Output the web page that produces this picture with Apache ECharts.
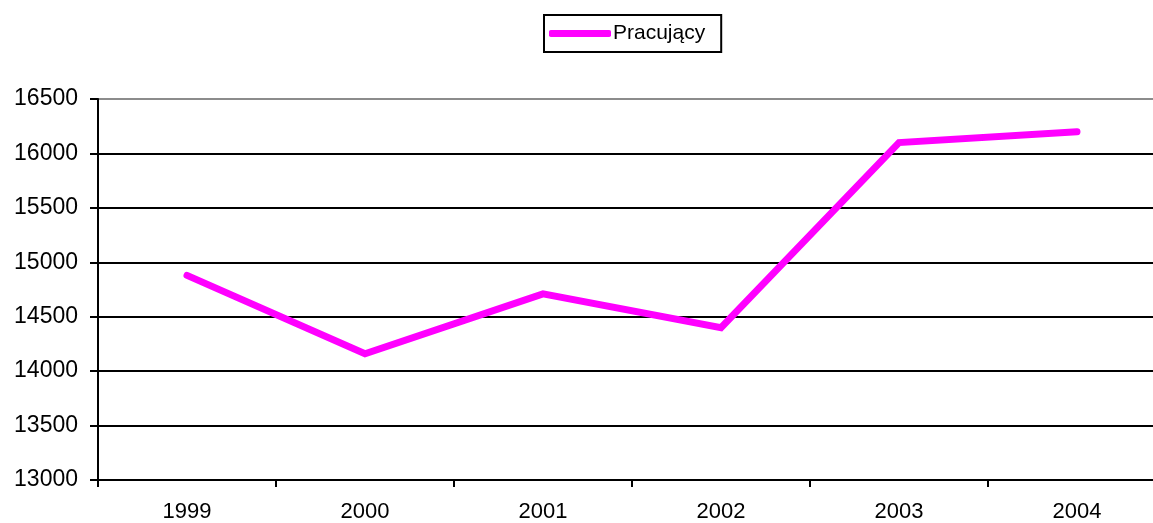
<!DOCTYPE html>
<html>
<head>
<meta charset="utf-8">
<script src="https://cdn.jsdelivr.net/npm/echarts@6/dist/echarts.min.js"></script>
<style>
  html, body { margin: 0; padding: 0; background: #fff; overflow: hidden; }
  /* the plot runs slightly past the right edge of the window */
  #chart { width: 1166px; height: 523px; }
</style>
</head>
<body>
<div id="chart"></div>
<script>
// Liczba pracujących w latach 1999–2004 (tys.)
const years = ['1999', '2000', '2001', '2002', '2003', '2004'];
const pracujacy = [14880, 14160, 14710, 14400, 16100, 16200];
const seriesName = 'Pracujący';

const yMin = 13000;
const yMax = 16500;
const yStep = 500;

const font = 'Arial, "Liberation Sans", sans-serif';

// Gridlines are black, the top one grey
const gridColors = [];
for (let v = yMin; v <= yMax; v += yStep) {
  gridColors.push(v === yMax ? '#8c8c8c' : '#000000');
}

const chart = echarts.init(document.getElementById('chart'), null, { renderer: 'canvas' });

chart.setOption({
  animation: false,
  backgroundColor: '#ffffff',
  textStyle: { fontFamily: font },
  legend: {
    left: 544,
    top: 15,
    orient: 'horizontal',
    icon: 'roundRect',
    itemWidth: 62,
    itemHeight: 7,
    padding: [8, 16, 8, 5],
    borderColor: '#000000',
    borderWidth: 2,
    borderRadius: 0,
    textStyle: { fontSize: 21, color: '#000000', fontFamily: font, padding: [4, 0, 0, -3] },
    data: [seriesName]
  },
  grid: {
    left: 98,
    top: 99,
    right: 0,
    bottom: 41,
    containLabel: false
  },
  xAxis: {
    type: 'category',
    data: years,
    boundaryGap: true,
    axisLine: { show: true, lineStyle: { color: '#000000', width: 2 } },
    axisTick: { show: true, alignWithLabel: false, length: 7, lineStyle: { color: '#000000', width: 2 } },
    axisLabel: { color: '#000000', fontSize: 22, fontFamily: font, margin: 21 },
    splitLine: { show: false }
  },
  yAxis: {
    type: 'value',
    min: yMin,
    max: yMax,
    interval: yStep,
    axisLine: { show: true, lineStyle: { color: '#000000', width: 2 } },
    axisTick: { show: true, length: 8, lineStyle: { color: '#000000', width: 2 } },
    axisLabel: {
      color: '#000000',
      fontSize: 23,
      fontFamily: font,
      margin: 20,
      formatter: (v) => String(v)
    },
    splitLine: { show: true, lineStyle: { color: gridColors, width: 2 } }
  },
  series: [{
    name: seriesName,
    type: 'line',
    data: pracujacy,
    symbol: 'none',
    showSymbol: false,
    itemStyle: { color: '#ff00ff' },
    lineStyle: { color: '#ff00ff', width: 7, cap: 'round', join: 'miter' }
  }]
});
</script>
</body>
</html>
